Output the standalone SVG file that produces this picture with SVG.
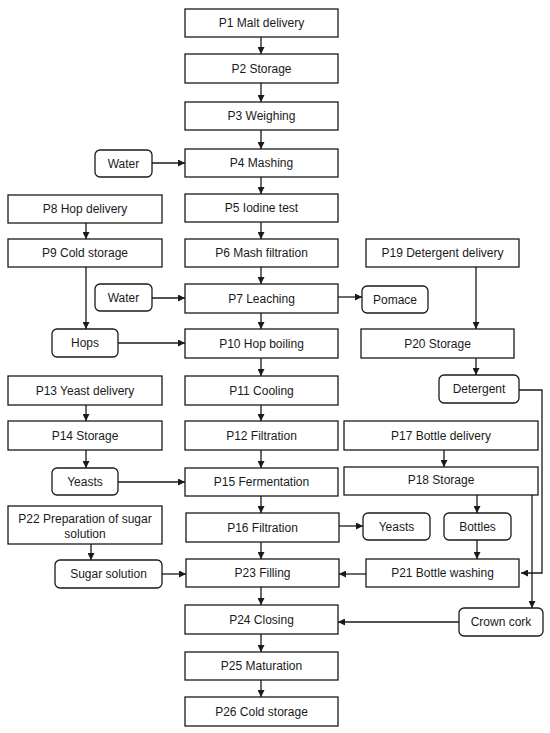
<svg xmlns="http://www.w3.org/2000/svg" width="550" height="733" viewBox="0 0 550 733">
<style>
.b{fill:#fff;stroke:#1a1a1a;stroke-width:1.3}
.t{font-family:"Liberation Sans",Arial,sans-serif;font-size:12px;fill:#1a1a1a;text-anchor:middle}
.c{fill:none;stroke:#1a1a1a;stroke-width:1.3}
</style>
<defs>
<marker id="a" viewBox="0 0 10 10" refX="10" refY="5" markerWidth="7" markerHeight="7" markerUnits="userSpaceOnUse" orient="auto">
<path d="M0,0 L10,5 L0,10 z" fill="#1a1a1a"/>
</marker>
</defs>
<rect width="550" height="733" fill="#fff"/>
<g id="connectors">
<path class="c" marker-end="url(#a)" d="M261,37 V54"/>
<path class="c" marker-end="url(#a)" d="M261,83 V102"/>
<path class="c" marker-end="url(#a)" d="M261,130 V149"/>
<path class="c" marker-end="url(#a)" d="M261,177 V194"/>
<path class="c" marker-end="url(#a)" d="M261,222 V239"/>
<path class="c" marker-end="url(#a)" d="M261,267 V284"/>
<path class="c" marker-end="url(#a)" d="M261,313 V329"/>
<path class="c" marker-end="url(#a)" d="M261,358 V376"/>
<path class="c" marker-end="url(#a)" d="M261,405 V421"/>
<path class="c" marker-end="url(#a)" d="M261,450 V468"/>
<path class="c" marker-end="url(#a)" d="M261,496 V513"/>
<path class="c" marker-end="url(#a)" d="M261,542 V559"/>
<path class="c" marker-end="url(#a)" d="M261,587 V605"/>
<path class="c" marker-end="url(#a)" d="M261,634 V652"/>
<path class="c" marker-end="url(#a)" d="M261,680 V697"/>
<path class="c" marker-end="url(#a)" d="M152,163 H185"/>
<path class="c" marker-end="url(#a)" d="M86,223 V239"/>
<path class="c" marker-end="url(#a)" d="M86,267 V329"/>
<path class="c" marker-end="url(#a)" d="M152,298 H185"/>
<path class="c" marker-end="url(#a)" d="M118,343 H185"/>
<path class="c" marker-end="url(#a)" d="M338,297 H362"/>
<path class="c" marker-end="url(#a)" d="M86,405 V421"/>
<path class="c" marker-end="url(#a)" d="M86,450 V468"/>
<path class="c" marker-end="url(#a)" d="M118,482 H185"/>
<path class="c" marker-end="url(#a)" d="M339,526 H363"/>
<path class="c" marker-end="url(#a)" d="M91,544 V560"/>
<path class="c" marker-end="url(#a)" d="M162,574 H186"/>
<path class="c" marker-end="url(#a)" d="M476,267 V329"/>
<path class="c" marker-end="url(#a)" d="M476,358 V375"/>
<path class="c" marker-end="url(#a)" d="M519,390 H542 V573 H521"/>
<path class="c" marker-end="url(#a)" d="M444,450 V467"/>
<path class="c" marker-end="url(#a)" d="M477,495 V513"/>
<path class="c" marker-end="url(#a)" d="M477,540 V559"/>
<path class="c" marker-end="url(#a)" d="M532,495 V608"/>
<path class="c" marker-end="url(#a)" d="M366,574 H339"/>
<path class="c" marker-end="url(#a)" d="M459,622 H338"/>
</g>
<g id="P1"><rect class="b" x="185" y="9" width="153" height="28"/><text class="t" x="261.5" y="27">P1 Malt delivery</text></g>
<g id="P2"><rect class="b" x="185" y="54" width="153" height="29"/><text class="t" x="261.5" y="72.5">P2 Storage</text></g>
<g id="P3"><rect class="b" x="185" y="102" width="153" height="28"/><text class="t" x="261.5" y="120">P3 Weighing</text></g>
<g id="P4"><rect class="b" x="185" y="149" width="153" height="28"/><text class="t" x="261.5" y="167">P4 Mashing</text></g>
<g id="P5"><rect class="b" x="185" y="194" width="153" height="28"/><text class="t" x="261.5" y="212">P5 Iodine test</text></g>
<g id="P6"><rect class="b" x="185" y="239" width="153" height="28"/><text class="t" x="261.5" y="257">P6 Mash filtration</text></g>
<g id="P7"><rect class="b" x="185" y="284" width="153" height="29"/><text class="t" x="261.5" y="302.5">P7 Leaching</text></g>
<g id="P10"><rect class="b" x="185" y="329" width="153" height="29"/><text class="t" x="261.5" y="347.5">P10 Hop boiling</text></g>
<g id="P11"><rect class="b" x="185" y="376" width="153" height="29"/><text class="t" x="261.5" y="394.5">P11 Cooling</text></g>
<g id="P12"><rect class="b" x="185" y="421" width="153" height="29"/><text class="t" x="261.5" y="439.5">P12 Filtration</text></g>
<g id="P15"><rect class="b" x="185" y="468" width="153" height="28"/><text class="t" x="261.5" y="486">P15 Fermentation</text></g>
<g id="P16"><rect class="b" x="186" y="513" width="153" height="29"/><text class="t" x="262.5" y="531.5">P16 Filtration</text></g>
<g id="P23"><rect class="b" x="186" y="559" width="153" height="28"/><text class="t" x="262.5" y="577">P23 Filling</text></g>
<g id="P24"><rect class="b" x="185" y="605" width="153" height="29"/><text class="t" x="261.5" y="623.5">P24 Closing</text></g>
<g id="P25"><rect class="b" x="185" y="652" width="153" height="28"/><text class="t" x="261.5" y="670">P25 Maturation</text></g>
<g id="P26"><rect class="b" x="185" y="697" width="153" height="29"/><text class="t" x="261.5" y="715.5">P26 Cold storage</text></g>
<g id="water1"><rect class="b" x="95" y="150" width="57" height="27" rx="5"/><text class="t" x="123.5" y="167.5">Water</text></g>
<g id="P8"><rect class="b" x="8" y="195" width="154" height="28"/><text class="t" x="85" y="213">P8 Hop delivery</text></g>
<g id="P9"><rect class="b" x="8" y="239" width="154" height="28"/><text class="t" x="85" y="257">P9 Cold storage</text></g>
<g id="water2"><rect class="b" x="95" y="284" width="57" height="27" rx="5"/><text class="t" x="123.5" y="301.5">Water</text></g>
<g id="hops"><rect class="b" x="52" y="329" width="66" height="28" rx="5"/><text class="t" x="85" y="347">Hops</text></g>
<g id="P13"><rect class="b" x="8" y="376" width="154" height="29"/><text class="t" x="85" y="394.5">P13 Yeast delivery</text></g>
<g id="P14"><rect class="b" x="8" y="421" width="154" height="29"/><text class="t" x="85" y="439.5">P14 Storage</text></g>
<g id="yeasts1"><rect class="b" x="52" y="468" width="66" height="27" rx="5"/><text class="t" x="85" y="485.5">Yeasts</text></g>
<g id="P22"><rect class="b" x="8" y="506" width="154" height="38"/><text class="t" x="85" y="523">P22 Preparation of sugar</text><text class="t" x="85" y="538">solution</text></g>
<g id="sugar"><rect class="b" x="55" y="560" width="107" height="28" rx="5"/><text class="t" x="108.5" y="578">Sugar solution</text></g>
<g id="P19"><rect class="b" x="366" y="239" width="153" height="28"/><text class="t" x="442.5" y="257">P19 Detergent delivery</text></g>
<g id="pomace"><rect class="b" x="362" y="286" width="66" height="27" rx="5"/><text class="t" x="395" y="303.5">Pomace</text></g>
<g id="P20"><rect class="b" x="361" y="329" width="153" height="29"/><text class="t" x="437.5" y="347.5">P20 Storage</text></g>
<g id="detergent"><rect class="b" x="439" y="375" width="80" height="28" rx="5"/><text class="t" x="479" y="393">Detergent</text></g>
<g id="P17"><rect class="b" x="344" y="421" width="194" height="29"/><text class="t" x="441" y="439.5">P17 Bottle delivery</text></g>
<g id="P18"><rect class="b" x="344" y="467" width="194" height="28"/><text class="t" x="441" y="484">P18 Storage</text></g>
<g id="yeasts2"><rect class="b" x="363" y="513" width="67" height="27" rx="5"/><text class="t" x="396.5" y="530.5">Yeasts</text></g>
<g id="bottles"><rect class="b" x="444" y="513" width="67" height="27" rx="5"/><text class="t" x="477.5" y="530.5">Bottles</text></g>
<g id="P21"><rect class="b" x="366" y="559" width="153" height="28"/><text class="t" x="442.5" y="577">P21 Bottle washing</text></g>
<g id="crown"><rect class="b" x="459" y="608" width="84" height="28" rx="5"/><text class="t" x="501" y="626">Crown cork</text></g>
</svg>
